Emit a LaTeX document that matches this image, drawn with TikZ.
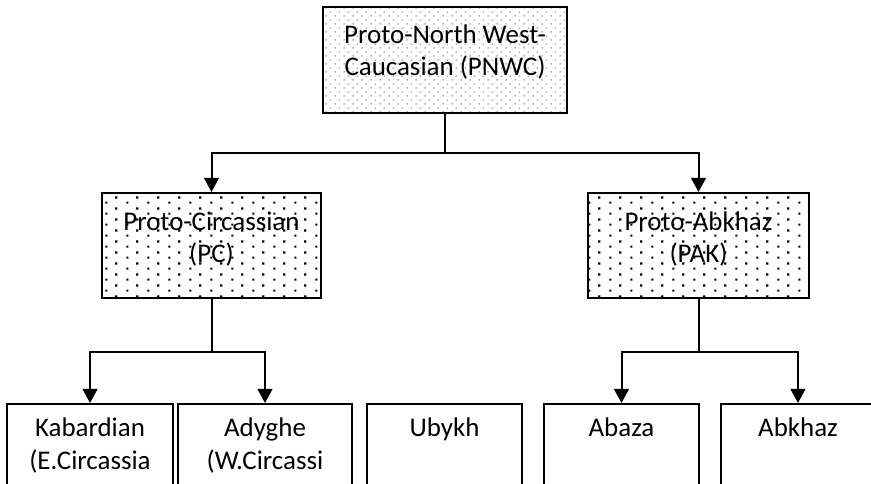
\documentclass[tikz,border=0pt]{standalone}
\usepackage{fontspec}
\setmainfont{Carlito}
\usetikzlibrary{arrows.meta,patterns.meta}

\tikzdeclarepattern{
  name=finedots, type=uncolored,
  bottom left={(0pt,0pt)}, top right={(6.6pt,5.8pt)},
  tile size={(6.6pt,5.8pt)},
  code={\tikzset{x=1pt,y=1pt}
    \fill (0.2,0.2) rectangle (1.4,1.4);
    \fill (3.5,3.1) rectangle (4.7,4.3);}
}
\tikzdeclarepattern{
  name=coarsedots, type=uncolored,
  bottom left={(0pt,0pt)}, top right={(15.75pt,8pt)},
  tile size={(15.75pt,8pt)},
  code={\tikzset{x=1pt,y=1pt}
    \fill (0.2,0.2) rectangle (1.9,1.9);
    \fill (8.0,4.2) rectangle (9.7,5.9);}
}

\begin{document}
\begin{tikzpicture}[x=0.75pt,y=-0.75pt,
  boxbase/.style={draw=black, line width=1.5pt, rectangle, inner sep=0pt},
  rootbox/.style={boxbase, pattern=finedots, pattern color=black!30},
  midbox/.style={boxbase, pattern=coarsedots, pattern color=black},
  leafbox/.style={boxbase, fill=white},
  lbl/.style={font=\fontsize{20.2}{24.3}\selectfont, align=center, inner sep=0pt, text=black},
  conn/.style={line width=1.5pt, draw=black},
  arr/.style={conn, -{Triangle[width=11pt,length=10.5pt]}}]
\useasboundingbox (0,0) rectangle (871,484);
\clip (0,0) rectangle (871,484);

% boxes
\node[rootbox, minimum width={244*0.75pt}, minimum height={106*0.75pt}] (pnwc) at (445,60) {};
\node[midbox, minimum width={219*0.75pt}, minimum height={105*0.75pt}] (pc) at (211.5,245.5) {};
\node[midbox, minimum width={221*0.75pt}, minimum height={105*0.75pt}] (pak) at (698.5,245.5) {};
\node[leafbox, minimum width={166*0.75pt}, minimum height={96*0.75pt}] (kab) at (90,452) {};
\node[leafbox, minimum width={174*0.75pt}, minimum height={96*0.75pt}] (ady) at (265,452) {};
\node[leafbox, minimum width={155*0.75pt}, minimum height={96*0.75pt}] (uby) at (444.5,452) {};
\node[leafbox, minimum width={155*0.75pt}, minimum height={96*0.75pt}] (aba) at (621.5,452) {};
\node[leafbox, minimum width={154*0.75pt}, minimum height={96*0.75pt}] (abk) at (798,452) {};

% labels
\node[lbl] (tpnwc) at (445,52) {Proto-North West-\\Caucasian (PNWC)};
\node[lbl] (tpc) at (211.5,239) {Proto-Circassian\\(PC)};
\node[lbl] (tpak) at (698.5,239) {Proto-Abkhaz\\(PAK)};
\node[lbl, anchor=north] (tkab) at (90,418) {Kabardian\\(E.Circassia};
\node[lbl, anchor=north] (tady) at (265,418) {Adyghe\\(W.Circassi};
\node[lbl, anchor=north] (tuby) at (444.5,418) {Ubykh};
\node[lbl, anchor=north] (taba) at (621.5,418) {Abaza};
\node[lbl, anchor=north] (tabk) at (798,418) {Abkhaz};

% connectors
\coordinate (j1) at (445,153);
\coordinate (j2) at (211.5,352);
\coordinate (j3) at (698.5,352);
\draw[conn] (pnwc.south) -- (j1);
\draw[arr] (j1) -| (pc.north);
\draw[arr] (j1) -| (pak.north);
\draw[conn] (pc.south) -- (j2);
\draw[arr] (j2) -| (kab.north);
\draw[arr] (j2) -| (ady.north);
\draw[conn] (pak.south) -- (j3);
\draw[arr] (j3) -| (aba.north);
\draw[arr] (j3) -| (abk.north);
\end{tikzpicture}
\end{document}
